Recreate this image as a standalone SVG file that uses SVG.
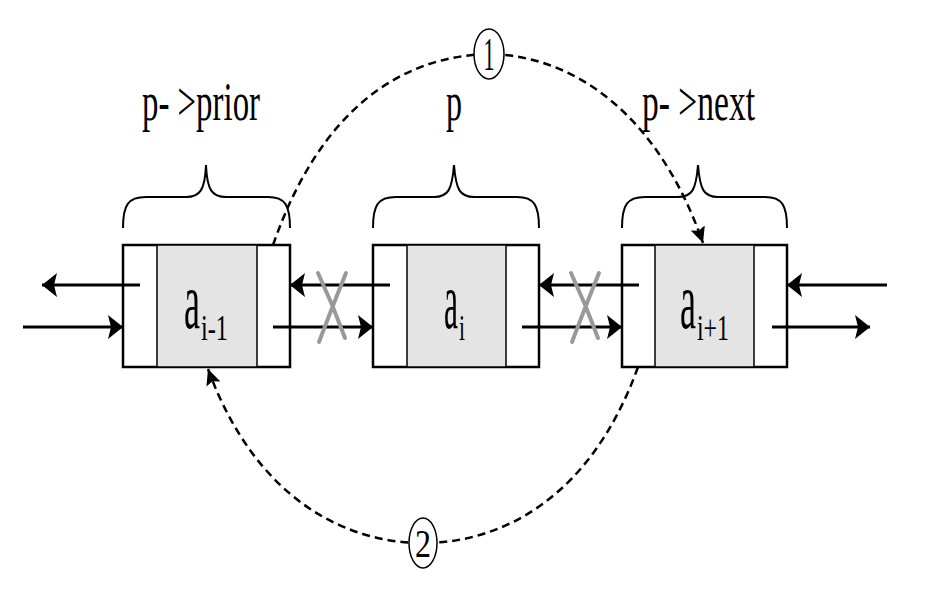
<svg xmlns="http://www.w3.org/2000/svg" width="930" height="596" viewBox="0 0 930 596">
<style>
.cell{fill:#fff;stroke:#000;stroke-width:2.5}
.data{fill:#e4e4e4;stroke:#000;stroke-width:1.5}
.brace{fill:none;stroke:#000;stroke-width:2}
.lbl{font-family:"Liberation Serif","Times New Roman",serif;fill:#000}
.ptr{fill:none;stroke:#000;stroke-width:3}
.dash{fill:none;stroke:#000;stroke-width:2.5;stroke-dasharray:8 5}
.cross{fill:none;stroke:#999;stroke-width:4;stroke-linecap:round}
.circ{fill:#fff;stroke:#000;stroke-width:1.5}
</style>
<defs>
<marker id="ah" markerUnits="userSpaceOnUse" viewBox="0 0 15 24" refX="15" refY="12" markerWidth="15" markerHeight="24" orient="auto">
<path d="M0,0 L15,12 L0,24 L3,12 z" fill="#000"/>
</marker>
<marker id="ahs" markerUnits="userSpaceOnUse" viewBox="0 0 16 15" refX="16" refY="7.5" markerWidth="16" markerHeight="15" orient="auto">
<path d="M0,0 L16,7.5 L0,15 L3,7.5 z" fill="#000"/>
</marker>
</defs>

<g id="label-prior">
<text class="lbl" x="142" y="120" font-size="54" textLength="118" lengthAdjust="spacingAndGlyphs">p- &gt;prior</text>
</g>
<g id="label-p">
<text class="lbl" x="446" y="120" font-size="54" textLength="16" lengthAdjust="spacingAndGlyphs">p</text>
</g>
<g id="label-next">
<text class="lbl" x="642" y="120" font-size="54" textLength="113" lengthAdjust="spacingAndGlyphs">p- &gt;next</text>
</g>

<g id="braces">
<path class="brace" d="M123,228 C123,205 128,197 146,197 L186,197 C200,197 205,190 206,165 C207,190 212,197 226,197 L268,197 C285,197 290,205 290,228"/>
<path class="brace" d="M373,228 C373,205 378,197 396,197 L434,197 C448,197 452,190 454,165 C456,190 460,197 474,197 L517,197 C534,197 539,205 539,228"/>
<path class="brace" d="M622,228 C622,205 627,197 645,197 L678,197 C692,197 696,190 698,165 C700,190 704,197 718,197 L765,197 C782,197 787,205 787,228"/>
</g>

<g id="node-ai-1">
<rect class="cell" x="123" y="245" width="167" height="122"/>
<rect class="data" x="157" y="245" width="100" height="122"/>
<text class="lbl" font-size="80"><tspan x="184" y="328" textLength="16" lengthAdjust="spacingAndGlyphs">a</tspan><tspan x="201" y="340" font-size="36" textLength="27" lengthAdjust="spacingAndGlyphs">i-1</tspan></text>
</g>
<g id="node-ai">
<rect class="cell" x="373" y="245" width="166" height="122"/>
<rect class="data" x="407" y="245" width="99" height="122"/>
<text class="lbl" font-size="80"><tspan x="444" y="328" textLength="14" lengthAdjust="spacingAndGlyphs">a</tspan><tspan x="459" y="340" font-size="36" textLength="6" lengthAdjust="spacingAndGlyphs">i</tspan></text>
</g>
<g id="node-ai+1">
<rect class="cell" x="622" y="245" width="165" height="122"/>
<rect class="data" x="655" y="245" width="99" height="122"/>
<text class="lbl" font-size="80"><tspan x="680" y="328" textLength="16" lengthAdjust="spacingAndGlyphs">a</tspan><tspan x="697" y="340" font-size="36" textLength="32" lengthAdjust="spacingAndGlyphs">i+1</tspan></text>
</g>

<g id="connectors">
<line class="ptr" x1="140" y1="285" x2="42" y2="285" marker-end="url(#ah)"/>
<line class="ptr" x1="23" y1="327" x2="123" y2="327" marker-end="url(#ah)"/>
<line class="ptr" x1="390" y1="285" x2="290" y2="285" marker-end="url(#ah)"/>
<line class="ptr" x1="273" y1="327" x2="373" y2="327" marker-end="url(#ah)"/>
<line class="ptr" x1="639" y1="285" x2="539" y2="285" marker-end="url(#ah)"/>
<line class="ptr" x1="522" y1="327" x2="622" y2="327" marker-end="url(#ah)"/>
<line class="ptr" x1="887" y1="285" x2="787" y2="285" marker-end="url(#ah)"/>
<line class="ptr" x1="772" y1="327" x2="870" y2="327" marker-end="url(#ah)"/>
<path class="cross" d="M318,273 Q333,305 345,338 M346,273 Q333,305 319,342"/>
<path class="cross" d="M571,273 Q586,305 598,338 M599,273 Q586,305 572,342"/>
<path class="dash" d="M273,245 C320,110 400,56 489,54 C580,56 660,120 703,243" marker-end="url(#ahs)"/>
<path class="dash" d="M638,367 C590,500 500,543 423,543 C346,543 256,500 208,369" marker-end="url(#ahs)"/>
</g>

<g id="step-1">
<ellipse class="circ" cx="489" cy="54" rx="15" ry="25"/>
<text class="lbl" x="489" y="70" font-size="46" text-anchor="middle" textLength="11" lengthAdjust="spacingAndGlyphs">1</text>
</g>
<g id="step-2">
<ellipse class="circ" cx="423" cy="543" rx="14" ry="25"/>
<text class="lbl" x="423" y="557" font-size="40" text-anchor="middle" textLength="16" lengthAdjust="spacingAndGlyphs">2</text>
</g>
</svg>
